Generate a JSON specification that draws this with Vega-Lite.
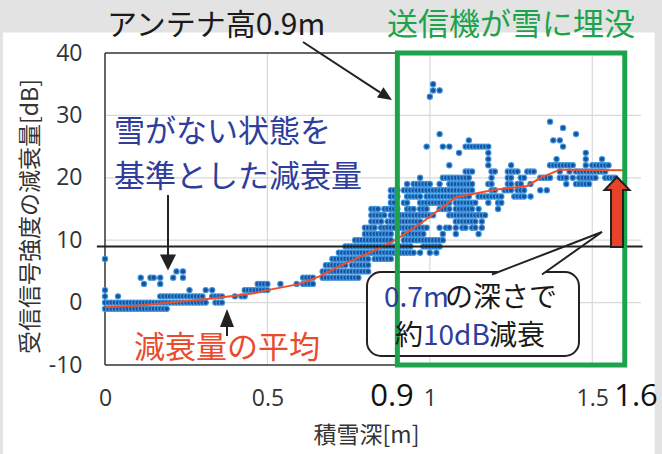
{
"$schema":"https://vega.github.io/schema/vega-lite/v6.json",
"width":536,"height":312,"autosize":"none",
"padding":{"left":105,"top":53,"right":21,"bottom":89},
"background":"#e3e3e3",
"config":{"view":{"stroke":null},"font":"Noto Sans CJK JP"},
"datasets":{
"pts":[
{"x":0,"y":-1},{"x":0.01,"y":-1},{"x":0.02,"y":-1},{"x":0.03,"y":-1},{"x":0.04,"y":-1},{"x":0.05,"y":-1},{"x":0.06,"y":-1},{"x":0.07,"y":-1},{"x":0.08,"y":-1},{"x":0.09,"y":-1},{"x":0.1,"y":-1},{"x":0.11,"y":-1},{"x":0.12,"y":-1},{"x":0.13,"y":-1},{"x":0.14,"y":-1},{"x":0.15,"y":-1},{"x":0.16,"y":-1},{"x":0.17,"y":-1},{"x":0.18,"y":-1},{"x":0.19,"y":-1},
{"x":0,"y":0},{"x":0.01,"y":0},{"x":0.02,"y":0},{"x":0.03,"y":0},{"x":0.04,"y":0},{"x":0.05,"y":0},{"x":0.06,"y":0},{"x":0.07,"y":0},{"x":0.08,"y":0},{"x":0.09,"y":0},{"x":0.1,"y":0},{"x":0.11,"y":0},{"x":0.12,"y":0},{"x":0.13,"y":0},{"x":0.14,"y":0},{"x":0.15,"y":0},{"x":0.16,"y":0},{"x":0.17,"y":0},{"x":0.18,"y":0},{"x":0.19,"y":0},{"x":0.2,"y":0},{"x":0.21,"y":0},{"x":0.22,"y":0},{"x":0.23,"y":0},{"x":0.24,"y":0},{"x":0.25,"y":0},{"x":0.26,"y":0},{"x":0.27,"y":0},{"x":0.28,"y":0},{"x":0.29,"y":0},{"x":0.3,"y":0},{"x":0.31,"y":0},{"x":0.34,"y":0},{"x":0.35,"y":0},{"x":0.36,"y":0},
{"x":0,"y":1},{"x":0.04,"y":1},{"x":0.17,"y":1},{"x":0.18,"y":1},{"x":0.19,"y":1},{"x":0.2,"y":1},{"x":0.21,"y":1},{"x":0.22,"y":1},{"x":0.23,"y":1},{"x":0.24,"y":1},{"x":0.25,"y":1},{"x":0.26,"y":1},{"x":0.27,"y":1},{"x":0.28,"y":1},{"x":0.29,"y":1},{"x":0.3,"y":1},{"x":0.33,"y":1},{"x":0.34,"y":1},{"x":0.35,"y":1},{"x":0.36,"y":1},{"x":0.4,"y":1},{"x":0.42,"y":1},{"x":0.43,"y":1},
{"x":0,"y":2},{"x":0.26,"y":2},{"x":0.31,"y":2},{"x":0.33,"y":2},{"x":0.43,"y":2},{"x":0.44,"y":2},{"x":0.45,"y":2},{"x":0.46,"y":2},{"x":0.47,"y":2},{"x":0.48,"y":2},{"x":0.49,"y":2},{"x":0.5,"y":2},
{"x":0.12,"y":3},{"x":0.17,"y":3},{"x":0.47,"y":3},{"x":0.48,"y":3},{"x":0.49,"y":3},{"x":0.5,"y":3},{"x":0.54,"y":3},{"x":0.59,"y":3},{"x":0.61,"y":3},{"x":0.62,"y":3},{"x":0.63,"y":3},{"x":0.64,"y":3},
{"x":0.11,"y":4},{"x":0.14,"y":4},{"x":0.15,"y":4},{"x":0.17,"y":4},{"x":0.21,"y":4},{"x":0.24,"y":4},{"x":0.61,"y":4},{"x":0.62,"y":4},{"x":0.63,"y":4},{"x":0.64,"y":4},{"x":0.67,"y":4},{"x":0.68,"y":4},{"x":0.69,"y":4},{"x":0.7,"y":4},{"x":0.71,"y":4},{"x":0.72,"y":4},{"x":0.73,"y":4},{"x":0.74,"y":4},{"x":0.75,"y":4},{"x":0.76,"y":4},{"x":0.77,"y":4},{"x":0.78,"y":4},
{"x":0.22,"y":5},{"x":0.24,"y":5},{"x":0.67,"y":5},{"x":0.68,"y":5},{"x":0.69,"y":5},{"x":0.7,"y":5},{"x":0.71,"y":5},{"x":0.72,"y":5},{"x":0.73,"y":5},{"x":0.74,"y":5},{"x":0.75,"y":5},{"x":0.76,"y":5},{"x":0.77,"y":5},{"x":0.78,"y":5},{"x":0.79,"y":5},{"x":0.8,"y":5},{"x":0.81,"y":5},
{"x":0.68,"y":6},{"x":0.69,"y":6},{"x":0.7,"y":6},{"x":0.71,"y":6},{"x":0.72,"y":6},{"x":0.73,"y":6},{"x":0.74,"y":6},{"x":0.76,"y":6},{"x":0.77,"y":6},{"x":0.78,"y":6},{"x":0.79,"y":6},{"x":0.8,"y":6},{"x":0.81,"y":6},
{"x":0,"y":7},{"x":0.7,"y":7},{"x":0.71,"y":7},{"x":0.72,"y":7},{"x":0.73,"y":7},{"x":0.74,"y":7},{"x":0.75,"y":7},{"x":0.76,"y":7},{"x":0.77,"y":7},{"x":0.78,"y":7},{"x":0.79,"y":7},{"x":0.8,"y":7},{"x":0.81,"y":7},{"x":0.83,"y":7},{"x":0.84,"y":7},{"x":0.85,"y":7},{"x":0.86,"y":7},{"x":0.87,"y":7},{"x":0.88,"y":7},
{"x":0.72,"y":8},{"x":0.73,"y":8},{"x":0.74,"y":8},{"x":0.75,"y":8},{"x":0.76,"y":8},{"x":0.77,"y":8},{"x":0.78,"y":8},{"x":0.79,"y":8},{"x":0.8,"y":8},{"x":0.81,"y":8},{"x":0.82,"y":8},{"x":0.83,"y":8},{"x":0.84,"y":8},{"x":0.85,"y":8},{"x":0.86,"y":8},{"x":0.87,"y":8},{"x":0.88,"y":8},{"x":0.89,"y":8},{"x":0.9,"y":8},{"x":0.91,"y":8},{"x":0.92,"y":8},{"x":0.93,"y":8},{"x":0.94,"y":8},{"x":0.95,"y":8},{"x":0.97,"y":8},{"x":1,"y":8},{"x":1.02,"y":8},
{"x":0.74,"y":9},{"x":0.75,"y":9},{"x":0.76,"y":9},{"x":0.77,"y":9},{"x":0.78,"y":9},{"x":0.79,"y":9},{"x":0.8,"y":9},{"x":0.81,"y":9},{"x":0.82,"y":9},{"x":0.83,"y":9},{"x":0.84,"y":9},{"x":0.85,"y":9},{"x":0.86,"y":9},{"x":0.87,"y":9},{"x":0.88,"y":9},{"x":0.89,"y":9},{"x":0.9,"y":9},{"x":0.91,"y":9},{"x":0.92,"y":9},{"x":0.93,"y":9},{"x":0.94,"y":9},{"x":0.98,"y":9},{"x":0.99,"y":9},{"x":1,"y":9},{"x":1.01,"y":9},{"x":1.02,"y":9},{"x":1.03,"y":9},
{"x":0.77,"y":10},{"x":0.78,"y":10},{"x":0.79,"y":10},{"x":0.8,"y":10},{"x":0.81,"y":10},{"x":0.82,"y":10},{"x":0.83,"y":10},{"x":0.84,"y":10},{"x":0.85,"y":10},{"x":0.86,"y":10},{"x":0.87,"y":10},{"x":0.88,"y":10},{"x":0.92,"y":10},{"x":0.93,"y":10},{"x":0.94,"y":10},{"x":0.95,"y":10},{"x":0.96,"y":10},{"x":0.97,"y":10},{"x":0.98,"y":10},{"x":0.99,"y":10},{"x":1,"y":10},{"x":1.01,"y":10},{"x":1.02,"y":10},{"x":1.03,"y":10},{"x":1.04,"y":10},
{"x":0.8,"y":11},{"x":0.81,"y":11},{"x":0.82,"y":11},{"x":0.83,"y":11},{"x":0.84,"y":11},{"x":0.85,"y":11},{"x":0.86,"y":11},{"x":0.87,"y":11},{"x":0.88,"y":11},{"x":0.92,"y":11},{"x":0.93,"y":11},{"x":0.94,"y":11},{"x":0.95,"y":11},{"x":0.96,"y":11},{"x":0.97,"y":11},{"x":0.98,"y":11},{"x":1.04,"y":11},{"x":1.08,"y":11},{"x":1.15,"y":11},
{"x":0.8,"y":12},{"x":0.81,"y":12},{"x":0.82,"y":12},{"x":0.83,"y":12},{"x":0.85,"y":12},{"x":0.86,"y":12},{"x":0.87,"y":12},{"x":0.88,"y":12},{"x":0.89,"y":12},{"x":0.91,"y":12},{"x":0.92,"y":12},{"x":0.93,"y":12},{"x":0.94,"y":12},{"x":0.95,"y":12},{"x":0.96,"y":12},{"x":0.97,"y":12},{"x":0.98,"y":12},{"x":0.99,"y":12},{"x":1.03,"y":12},{"x":1.05,"y":12},{"x":1.06,"y":12},{"x":1.08,"y":12},{"x":1.1,"y":12},{"x":1.11,"y":12},{"x":1.13,"y":12},{"x":1.14,"y":12},{"x":1.16,"y":12},
{"x":0.82,"y":13},{"x":0.83,"y":13},{"x":0.84,"y":13},{"x":0.85,"y":13},{"x":0.87,"y":13},{"x":0.88,"y":13},{"x":0.89,"y":13},{"x":0.9,"y":13},{"x":0.91,"y":13},{"x":0.92,"y":13},{"x":0.93,"y":13},{"x":0.94,"y":13},{"x":0.95,"y":13},{"x":0.96,"y":13},{"x":0.97,"y":13},{"x":1.08,"y":13},{"x":1.09,"y":13},{"x":1.1,"y":13},{"x":1.11,"y":13},{"x":1.12,"y":13},{"x":1.13,"y":13},{"x":1.14,"y":13},{"x":1.16,"y":13},
{"x":0.82,"y":14},{"x":0.83,"y":14},{"x":0.84,"y":14},{"x":0.85,"y":14},{"x":0.86,"y":14},{"x":0.88,"y":14},{"x":0.89,"y":14},{"x":0.9,"y":14},{"x":0.91,"y":14},{"x":0.92,"y":14},{"x":0.93,"y":14},{"x":0.94,"y":14},{"x":0.95,"y":14},{"x":0.96,"y":14},{"x":0.97,"y":14},{"x":0.98,"y":14},{"x":0.99,"y":14},{"x":1,"y":14},{"x":1.01,"y":14},{"x":1.06,"y":14},{"x":1.07,"y":14},{"x":1.08,"y":14},{"x":1.09,"y":14},{"x":1.1,"y":14},{"x":1.11,"y":14},{"x":1.12,"y":14},{"x":1.13,"y":14},{"x":1.14,"y":14},{"x":1.15,"y":14},{"x":1.16,"y":14},{"x":1.17,"y":14},
{"x":0.82,"y":15},{"x":0.83,"y":15},{"x":0.84,"y":15},{"x":0.86,"y":15},{"x":0.87,"y":15},{"x":0.88,"y":15},{"x":0.89,"y":15},{"x":0.9,"y":15},{"x":0.93,"y":15},{"x":0.94,"y":15},{"x":0.95,"y":15},{"x":0.97,"y":15},{"x":0.98,"y":15},{"x":0.99,"y":15},{"x":1.03,"y":15},{"x":1.04,"y":15},{"x":1.05,"y":15},{"x":1.06,"y":15},{"x":1.08,"y":15},{"x":1.09,"y":15},{"x":1.1,"y":15},{"x":1.11,"y":15},{"x":1.12,"y":15},{"x":1.13,"y":15},{"x":1.15,"y":15},{"x":1.21,"y":15},
{"x":0.88,"y":16},{"x":0.89,"y":16},{"x":0.92,"y":16},{"x":0.93,"y":16},{"x":0.97,"y":16},{"x":0.98,"y":16},{"x":0.99,"y":16},{"x":1,"y":16},{"x":1.01,"y":16},{"x":1.02,"y":16},{"x":1.03,"y":16},{"x":1.04,"y":16},{"x":1.05,"y":16},{"x":1.06,"y":16},{"x":1.08,"y":16},{"x":1.09,"y":16},{"x":1.1,"y":16},{"x":1.11,"y":16},{"x":1.12,"y":16},{"x":1.13,"y":16},{"x":1.14,"y":16},{"x":1.18,"y":16},{"x":1.21,"y":16},{"x":1.22,"y":16},
{"x":0.88,"y":17},{"x":0.89,"y":17},{"x":0.9,"y":17},{"x":0.93,"y":17},{"x":0.94,"y":17},{"x":0.95,"y":17},{"x":0.96,"y":17},{"x":0.97,"y":17},{"x":0.99,"y":17},{"x":1,"y":17},{"x":1.01,"y":17},{"x":1.02,"y":17},{"x":1.03,"y":17},{"x":1.04,"y":17},{"x":1.05,"y":17},{"x":1.06,"y":17},{"x":1.07,"y":17},{"x":1.08,"y":17},{"x":1.09,"y":17},{"x":1.1,"y":17},{"x":1.11,"y":17},{"x":1.12,"y":17},{"x":1.15,"y":17},{"x":1.16,"y":17},{"x":1.17,"y":17},{"x":1.18,"y":17},{"x":1.19,"y":17},{"x":1.2,"y":17},{"x":1.21,"y":17},{"x":1.22,"y":17},{"x":1.26,"y":17},{"x":1.27,"y":17},{"x":1.28,"y":17},{"x":1.29,"y":17},{"x":1.31,"y":17},
{"x":0.88,"y":18},{"x":0.89,"y":18},{"x":0.9,"y":18},{"x":0.92,"y":18},{"x":0.93,"y":18},{"x":0.94,"y":18},{"x":0.95,"y":18},{"x":0.96,"y":18},{"x":0.97,"y":18},{"x":0.98,"y":18},{"x":0.99,"y":18},{"x":1,"y":18},{"x":1.01,"y":18},{"x":1.02,"y":18},{"x":1.03,"y":18},{"x":1.04,"y":18},{"x":1.05,"y":18},{"x":1.06,"y":18},{"x":1.07,"y":18},{"x":1.08,"y":18},{"x":1.09,"y":18},{"x":1.1,"y":18},{"x":1.11,"y":18},{"x":1.12,"y":18},{"x":1.13,"y":18},{"x":1.19,"y":18},{"x":1.2,"y":18},{"x":1.23,"y":18},{"x":1.24,"y":18},{"x":1.25,"y":18},{"x":1.27,"y":18},{"x":1.28,"y":18},{"x":1.29,"y":18},{"x":1.34,"y":18},{"x":1.36,"y":18},
{"x":0.93,"y":19},{"x":0.95,"y":19},{"x":0.96,"y":19},{"x":0.97,"y":19},{"x":0.98,"y":19},{"x":0.99,"y":19},{"x":1,"y":19},{"x":1.03,"y":19},{"x":1.06,"y":19},{"x":1.07,"y":19},{"x":1.08,"y":19},{"x":1.09,"y":19},{"x":1.1,"y":19},{"x":1.11,"y":19},{"x":1.12,"y":19},{"x":1.13,"y":19},{"x":1.18,"y":19},{"x":1.19,"y":19},{"x":1.24,"y":19},{"x":1.25,"y":19},{"x":1.27,"y":19},{"x":1.28,"y":19},{"x":1.31,"y":19},{"x":1.42,"y":19},{"x":1.45,"y":19},{"x":1.46,"y":19},{"x":1.47,"y":19},{"x":1.48,"y":19},{"x":1.49,"y":19},
{"x":0.97,"y":20},{"x":1.04,"y":20},{"x":1.05,"y":20},{"x":1.06,"y":20},{"x":1.07,"y":20},{"x":1.08,"y":20},{"x":1.09,"y":20},{"x":1.1,"y":20},{"x":1.11,"y":20},{"x":1.12,"y":20},{"x":1.19,"y":20},{"x":1.24,"y":20},{"x":1.25,"y":20},{"x":1.28,"y":20},{"x":1.29,"y":20},{"x":1.34,"y":20},{"x":1.35,"y":20},{"x":1.36,"y":20},{"x":1.37,"y":20},{"x":1.4,"y":20},{"x":1.41,"y":20},{"x":1.42,"y":20},{"x":1.44,"y":20},{"x":1.46,"y":20},{"x":1.47,"y":20},{"x":1.48,"y":20},{"x":1.49,"y":20},{"x":1.5,"y":20},{"x":1.51,"y":20},{"x":1.54,"y":20},{"x":1.55,"y":20},{"x":1.56,"y":20},{"x":1.57,"y":20},
{"x":1.11,"y":21},{"x":1.12,"y":21},{"x":1.13,"y":21},{"x":1.19,"y":21},{"x":1.2,"y":21},{"x":1.24,"y":21},{"x":1.25,"y":21},{"x":1.26,"y":21},{"x":1.27,"y":21},{"x":1.3,"y":21},{"x":1.31,"y":21},{"x":1.32,"y":21},{"x":1.4,"y":21},{"x":1.43,"y":21},{"x":1.45,"y":21},{"x":1.46,"y":21},{"x":1.47,"y":21},{"x":1.48,"y":21},{"x":1.49,"y":21},{"x":1.5,"y":21},{"x":1.51,"y":21},{"x":1.52,"y":21},{"x":1.53,"y":21},{"x":1.54,"y":21},
{"x":1.06,"y":22},{"x":1.18,"y":22},{"x":1.25,"y":22},{"x":1.37,"y":22},{"x":1.38,"y":22},{"x":1.39,"y":22},{"x":1.4,"y":22},{"x":1.41,"y":22},{"x":1.42,"y":22},{"x":1.43,"y":22},{"x":1.44,"y":22},{"x":1.48,"y":22},{"x":1.5,"y":22},{"x":1.51,"y":22},{"x":1.52,"y":22},{"x":1.53,"y":22},{"x":1.54,"y":22},{"x":1.55,"y":22},
{"x":1.18,"y":23},{"x":1.39,"y":23},{"x":1.48,"y":23},{"x":1.53,"y":23},
{"x":1.09,"y":24},{"x":1.18,"y":24},{"x":1.48,"y":24},
{"x":0.99,"y":25},{"x":1.04,"y":25},{"x":1.06,"y":25},{"x":1.11,"y":25},{"x":1.12,"y":25},{"x":1.13,"y":25},{"x":1.14,"y":25},{"x":1.15,"y":25},{"x":1.16,"y":25},{"x":1.17,"y":25},{"x":1.18,"y":25},{"x":1.41,"y":25},
{"x":1.12,"y":26},{"x":1.38,"y":26},{"x":1.4,"y":26},
{"x":1.03,"y":27},{"x":1.45,"y":27},
{"x":1.41,"y":28},{"x":1.37,"y":29},
{"x":1,"y":33},{"x":1.01,"y":34},{"x":1.03,"y":34},{"x":1.01,"y":35}
],
"avg":[
{"x":0,"y":-0.7},{"x":0.1,"y":-0.5},{"x":0.2,"y":0},{"x":0.3,"y":0.5},{"x":0.4,"y":1.1},{"x":0.46,"y":1.5},{"x":0.5,"y":2},{"x":0.56,"y":2.6},{"x":0.6,"y":3},{"x":0.66,"y":4.2},{"x":0.72,"y":5.8},{"x":0.78,"y":7.2},{"x":0.84,"y":8.6},{"x":0.9,"y":10.2},{"x":0.98,"y":13},{"x":1.08,"y":16.9},{"x":1.2,"y":18.1},{"x":1.3,"y":18.7},{"x":1.34,"y":20},{"x":1.4,"y":21.3},{"x":1.6,"y":21.2}
]
},
"encoding":{
"x":{"field":"x","type":"quantitative","scale":{"domain":[0,1.65],"nice":false,"zero":false},
"axis":{"values":[0,0.5,1,1.5],"labelExpr":"'' + datum.value","grid":false,"domain":false,"ticks":false,"labelFont":"Open Sans","labelFontSize":23,"labelColor":"#333333","labelPadding":33,"labelBaseline":"middle","labelFlush":false,"labelOverlap":false,"title":"積雪深[m]","titleFontSize":23,"titleFontWeight":"normal","titleColor":"#333333","titleX":261,"titleY":70,"titleBaseline":"middle","zindex":1}},
"y":{"field":"y","type":"quantitative","scale":{"domain":[-10,40],"nice":false,"zero":false},
"axis":{"values":[-10,0,10,20,30,40],"labelExpr":"'' + datum.value","grid":false,"domain":false,"ticks":false,"labelFont":"Open Sans","labelFontSize":23,"labelColor":"#333333","labelPadding":23,"labelFlush":false,"labelOverlap":false,"title":"受信信号強度の減衰量[dB]","titleFontSize":23,"titleFontWeight":"normal","titleColor":"#333333","titleAngle":-90,"titleX":-75,"titleY":163,"titleAlign":"center","titleBaseline":"middle","zindex":1}}
},
"layer":[
{"data":{"values":[{"x":-0.3138,"x2":1.692,"y":-26,"y2":43.27}]},"mark":{"type":"rect","fill":"white"},"encoding":{"x2":{"field":"x2"},"y2":{"field":"y2"}}},
{"data":{"values":[{"x":0,"x2":1.65,"y":0},{"x":0,"x2":1.65,"y":10},{"x":0,"x2":1.65,"y":20},{"x":0,"x2":1.65,"y":30}]},"mark":{"type":"rule","color":"#d9d9d9","strokeWidth":1.2},"encoding":{"x2":{"field":"x2"}}},
{"data":{"values":[{"x":0.5,"y":-10,"y2":40},{"x":1,"y":-10,"y2":40},{"x":1.5,"y":-10,"y2":40}]},"mark":{"type":"rule","color":"#d9d9d9","strokeWidth":1.2},"encoding":{"y2":{"field":"y2"}}},
{"data":{"values":[{"x":0,"x2":0,"y":-10,"y2":40},{"x":0,"x2":1.6,"y":40,"y2":40},{"x":0,"x2":1.6,"y":-10,"y2":-10}]},"mark":{"type":"rule","color":"#333333","strokeWidth":1.5},"encoding":{"x2":{"field":"x2"},"y2":{"field":"y2"}}},
{"data":{"name":"pts"},"mark":{"type":"point","shape":"circle","filled":true,"fill":"#1a4f9f","stroke":"#3d97dc","strokeWidth":1.1,"size":28,"opacity":1}},
{"data":{"name":"avg"},"mark":{"type":"line","color":"#f04e2a","strokeWidth":2}},
{"data":{"values":[{"x":0.8065,"x2":1.4591,"y":4.9,"y2":-8.56}]},"mark":{"type":"rect","fill":"white","stroke":"#222222","strokeWidth":2,"cornerRadius":14},"encoding":{"x2":{"field":"x2"},"y2":{"field":"y2"}}},
{"data":{"values":[{"x":1.3606,"y":7.91}]},"mark":{"type":"point","shape":"M-1,0.386L1,-0.386L-0.091,0.386","size":12100,"fill":"white","stroke":"#222222","strokeWidth":2,"opacity":1,"filled":true}},
{"data":{"values":[{"x":-0.025,"x2":1.655,"y":9}]},"mark":{"type":"rule","color":"#222222","strokeWidth":2},"encoding":{"x2":{"field":"x2"}}},
{"data":{"values":[{"x":0.9,"x2":1.6,"y":-10,"y2":40}]},"mark":{"type":"rect","fillOpacity":0,"fill":"white","stroke":"#1da34b","strokeWidth":5},"encoding":{"x2":{"field":"x2"},"y2":{"field":"y2"}}},
{"data":{"values":[{"x":0.1939,"x2":0.1939,"y":17.24,"y2":7.47},{"x":0.3756,"x2":0.3756,"y":-3.75,"y2":-5.35},{"x":0.6095,"x2":0.8465,"y":41.76,"y2":33.69}]},"mark":{"type":"rule","color":"#222222","strokeWidth":2},"encoding":{"x2":{"field":"x2"},"y2":{"field":"y2"}}},
{"data":{"values":[{"x":0.1939,"y":6.43}]},"mark":{"type":"point","shape":"M-1,-1L1,-1L0,1Z","size":256,"filled":true,"fill":"#222222","strokeWidth":0,"opacity":1}},
{"data":{"values":[{"x":0.3756,"y":-2.48}]},"mark":{"type":"point","shape":"M-0.78,1L0.78,1L0,-1Z","size":324,"filled":true,"fill":"#222222","strokeWidth":0,"opacity":1}},
{"data":{"values":[{"x":0.8653,"y":33.08}]},"mark":{"type":"point","shape":"M-0.857,-1L0.857,-1L0,1Z","size":196,"angle":-57.4,"filled":true,"fill":"#222222","strokeWidth":0,"opacity":1}},
{"data":{"values":[{"x":1.5761,"y":14.52}]},"mark":{"type":"point","shape":"M0,-1L0.357,-0.629L0.171,-0.629L0.171,1L-0.171,1L-0.171,-0.629L-0.357,-0.629Z","size":4900,"filled":true,"fill":"#e8432a","stroke":"#222222","strokeWidth":2,"opacity":1}},
{"data":{"values":[{"t":"アンテナ高0.9m","x":0.0062,"y":44.35}]},"mark":{"type":"text","align":"left","baseline":"middle","fontSize":30,"color":"#1a1a1a"},"encoding":{"text":{"field":"t"}}},
{"data":{"values":[{"t":"送信機が雪に埋没","x":0.8681,"y":44.25}]},"mark":{"type":"text","align":"left","baseline":"middle","fontSize":31,"color":"#1da34b"},"encoding":{"text":{"field":"t"}}},
{"data":{"values":[{"t":"雪がない状態を","x":0.0277,"y":27.18},{"t":"基準とした減衰量","x":0.0277,"y":19.97}]},"mark":{"type":"text","align":"left","baseline":"middle","fontSize":31,"color":"#2f3d9c"},"encoding":{"text":{"field":"t"}}},
{"data":{"values":[{"t":"減衰量の平均","x":0.0893,"y":-7.44}]},"mark":{"type":"text","align":"left","baseline":"middle","fontSize":31,"color":"#ea4b2c"},"encoding":{"text":{"field":"t"}}},
{"data":{"values":[{"t":"0.7m","x":0.8589,"y":0.58},{"t":"10dB","x":0.979,"y":-5.51}]},"mark":{"type":"text","align":"left","baseline":"middle","fontSize":28,"color":"#2f3d9c"},"encoding":{"text":{"field":"t"}}},
{"data":{"values":[{"t":"の深さで","x":1.0466,"y":0.58},{"t":"約","x":0.8927,"y":-5.51},{"t":"減衰","x":1.1821,"y":-5.51}]},"mark":{"type":"text","align":"left","baseline":"middle","fontSize":28,"color":"#1a1a1a"},"encoding":{"text":{"field":"t"}}},
{"data":{"values":[{"t":"0.9","x":0.8835,"y":-15.13},{"t":"1.6","x":1.6346,"y":-15.13}]},"mark":{"type":"text","align":"center","baseline":"middle","fontSize":31,"font":"Open Sans","color":"#111111"},"encoding":{"text":{"field":"t"}}}
]
}
